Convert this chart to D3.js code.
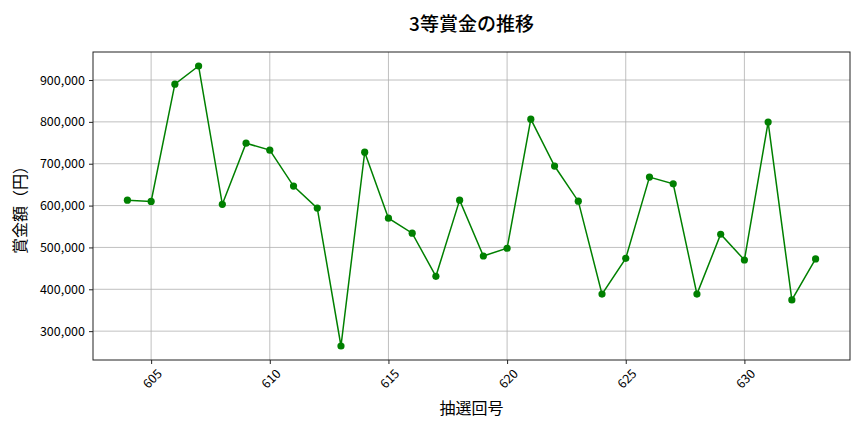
<!DOCTYPE html>
<html>
<head>
<meta charset="utf-8">
<script src="https://cdn.jsdelivr.net/npm/d3@7"></script>
<style>
  body { margin: 0; background: #fff; }
  text { font-family: "Noto Sans CJK JP", sans-serif; }
</style>
</head>
<body>
<div id="chart"></div>
<script>
const draws = [604, 605, 606, 607, 608, 609, 610, 611, 612, 613, 614, 615, 616, 617, 618,
               619, 620, 621, 622, 623, 624, 625, 626, 627, 628, 629, 630, 631, 632, 633];
const prizes = [613000, 610000, 890000, 933500, 603000, 749000, 732500, 646500, 594000, 264500,
                727500, 570000, 534000, 431000, 613000, 479500, 498000, 806500, 694500, 610500,
                388500, 474000, 668000, 652000, 388500, 531500, 470000, 799500, 374500, 472500];
const xTicks = [605, 610, 615, 620, 625, 630];
const yTicks = [300000, 400000, 500000, 600000, 700000, 800000, 900000];

const W = 864, H = 432;
const margin = { top: 52, right: 14, bottom: 72, left: 93 };
const width = W - margin.left - margin.right,
      height = H - margin.top - margin.bottom;

const svg = d3.select("#chart").append("svg")
    .attr("width", W)
    .attr("height", H);

const g = svg.append("g")
    .attr("transform", `translate(${margin.left},${margin.top})`);

// matplotlib-like 5% padding around the data
const xPad = (d3.max(draws) - d3.min(draws)) * 0.05;
const yExt = d3.extent(prizes);
const yPad = (yExt[1] - yExt[0]) * 0.05;

const x = d3.scaleLinear()
    .domain([d3.min(draws) - xPad, d3.max(draws) + xPad])
    .range([0, width]);

const y = d3.scaleLinear()
    .domain([yExt[0] - yPad, yExt[1] + yPad])
    .range([height, 0]);

// grid
g.append("g")
    .selectAll("line")
    .data(xTicks)
    .join("line")
    .attr("x1", d => x(d)).attr("x2", d => x(d))
    .attr("y1", 0).attr("y2", height)
    .attr("stroke", "#b0b0b0").attr("stroke-width", 0.8);

g.append("g")
    .selectAll("line")
    .data(yTicks)
    .join("line")
    .attr("y1", d => y(d)).attr("y2", d => y(d))
    .attr("x1", 0).attr("x2", width)
    .attr("stroke", "#b0b0b0").attr("stroke-width", 0.8);

// axes
const xAxis = g.append("g")
    .attr("transform", `translate(0,${height})`)
    .call(d3.axisBottom(x).tickValues(xTicks).tickFormat(d3.format("d")).tickSize(4).tickPadding(3));
xAxis.select(".domain").remove();
xAxis.selectAll("line").attr("stroke", "#222");
xAxis.selectAll("text")
    .attr("font-size", 12.5)
    .attr("fill", "#000")
    .attr("text-anchor", "middle")
    .attr("dy", null)
    .attr("y", 0)
    .attr("transform", "translate(0,18) rotate(-45)")
    .attr("dominant-baseline", "central");

const yAxis = g.append("g")
    .call(d3.axisLeft(y).tickValues(yTicks).tickFormat(d3.format(",")).tickSize(4).tickPadding(4));
yAxis.select(".domain").remove();
yAxis.selectAll("line").attr("stroke", "#222");
yAxis.selectAll("text").attr("font-size", 12.5).attr("fill", "#000");

g.append("rect")
    .attr("width", width).attr("height", height)
    .attr("fill", "none").attr("stroke", "#222").attr("stroke-width", 1);

// line + markers
const line = d3.line()
    .x((d, i) => x(draws[i]))
    .y(d => y(d));

g.append("path")
    .datum(prizes)
    .attr("d", line)
    .attr("fill", "none")
    .attr("stroke", "green")
    .attr("stroke-width", 1.5);

g.selectAll("circle")
    .data(prizes)
    .join("circle")
    .attr("cx", (d, i) => x(draws[i]))
    .attr("cy", d => y(d))
    .attr("r", 3.6)
    .attr("fill", "green");

// labels
svg.append("text")
    .attr("x", margin.left + width / 2)
    .attr("y", 31)
    .attr("text-anchor", "middle")
    .attr("font-size", 19)
    .attr("font-weight", 500)
    .attr("fill", "#000")
    .text("3等賞金の推移");

svg.append("text")
    .attr("x", margin.left + width / 2)
    .attr("y", 414)
    .attr("text-anchor", "middle")
    .attr("font-size", 16)
    .attr("fill", "#000")
    .text("抽選回号");

svg.append("text")
    .attr("transform", `translate(26,${margin.top + height / 2}) rotate(-90)`)
    .attr("text-anchor", "middle")
    .attr("font-size", 16)
    .attr("fill", "#000")
    .text("賞金額（円）");
</script>
</body>
</html>
